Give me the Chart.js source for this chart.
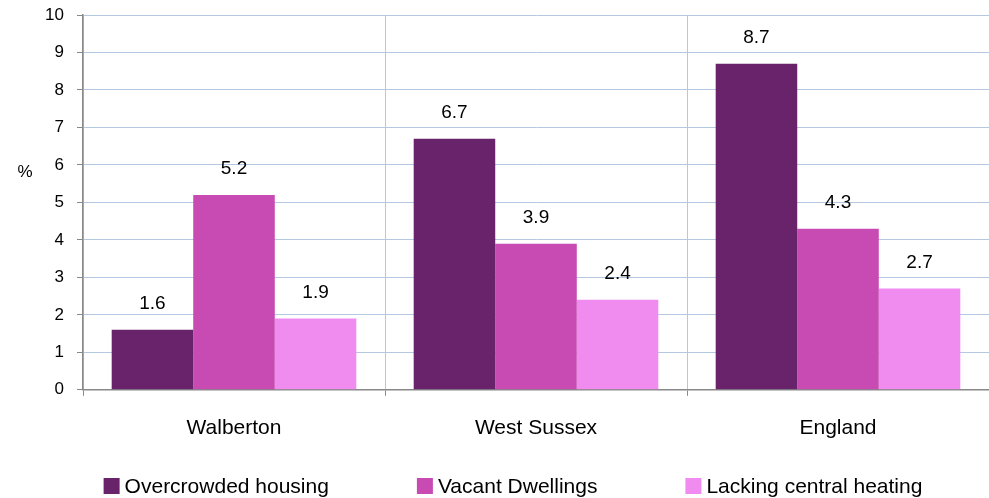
<!DOCTYPE html>
<html>
<head>
<meta charset="utf-8">
<script src="https://cdn.jsdelivr.net/npm/chart.js@4/dist/chart.umd.min.js"></script>
<style>
  html, body { margin: 0; padding: 0; background: #fff; }
  #wrap { width: 989px; height: 498px; }
</style>
</head>
<body>
<div id="wrap"><canvas id="myChart"></canvas></div>
<script>
var categories = ['Walberton', 'West Sussex', 'England'];
var overcrowded = [1.6, 6.7, 8.7];
var vacant = [5.2, 3.9, 4.3];
var lackingHeating = [1.9, 2.4, 2.7];
var seriesNames = ['Overcrowded housing', 'Vacant Dwellings', 'Lacking central heating'];
var yTicks = [0, 1, 2, 3, 4, 5, 6, 7, 8, 9, 10];

var font = 'Liberation Sans, Arial, sans-serif';

// value labels above bars, the "%" axis label and the legend row at the bottom
var labelPlugin = {
    id: 'valueLabels',
    afterDatasetsDraw: function (chart) {
        var c = chart.ctx;
        c.save();
        c.fillStyle = '#000';
        c.textAlign = 'center';
        c.textBaseline = 'middle';
        c.font = '19px ' + font;
        chart.data.datasets.forEach(function (ds, i) {
            chart.getDatasetMeta(i).data.forEach(function (bar, j) {
                c.fillText(ds.data[j].toFixed(1), bar.x, bar.y - 26);
            });
        });
        c.font = '17px ' + font;
        c.fillText('%', chart.chartArea.left - 58, chart.scales.y.getPixelForValue(5.8));

        // legend
        c.font = '21px ' + font;
        c.textAlign = 'left';
        var box = 16, gap = 5, spacing = 88;
        var widths = chart.data.datasets.map(function (ds) {
            return box + gap + c.measureText(ds.label).width;
        });
        var total = widths.reduce(function (a, b) { return a + b; }, 0) + spacing * (widths.length - 1);
        var x = 513 - total / 2;
        var y = 486;
        chart.data.datasets.forEach(function (ds, i) {
            c.fillStyle = ds.backgroundColor;
            c.fillRect(x, y - box / 2, box, box);
            c.fillStyle = '#000';
            c.fillText(ds.label, x + box + gap, y + 1);
            x += widths[i] + spacing;
        });
        c.restore();
    }
};

var ctx = document.getElementById('myChart').getContext('2d');
var chart = new Chart(ctx, {
    type: 'bar',
    data: {
        labels: categories,
        datasets: [{
            label: seriesNames[0],
            backgroundColor: '#68236b',
            data: overcrowded
        }, {
            label: seriesNames[1],
            backgroundColor: '#c84ab3',
            data: vacant
        }, {
            label: seriesNames[2],
            backgroundColor: '#f08cef',
            data: lackingHeating
        }]
    },
    options: {
        responsive: true,
        maintainAspectRatio: false,
        animation: false,
        layout: { padding: { top: 15, right: 0, bottom: 37, left: 0 } },
        datasets: {
            bar: { categoryPercentage: 0.81, barPercentage: 1.0 }
        },
        scales: {
            x: {
                offset: true,
                grid: {
                    offset: true,
                    color: '#b4c8e2',
                    tickColor: '#888',
                    tickLength: 6,
                    lineWidth: 1
                },
                border: { color: '#888', width: 1.5 },
                ticks: { color: '#000', font: { family: font, size: 21 }, padding: 20 }
            },
            y: {
                min: 0,
                max: 10,
                afterBuildTicks: function (scale) {
                    scale.ticks = yTicks.map(function (v) { return { value: v }; });
                },
                afterFit: function (scale) {
                    scale.width = 83;
                    scale.paddingTop = 0;
                },
                grid: {
                    color: '#b4c8e2',
                    tickColor: '#888',
                    tickLength: 6,
                    lineWidth: 1
                },
                border: { color: '#888', width: 1.5 },
                ticks: { color: '#000', font: { family: font, size: 17 }, padding: 13 }
            }
        },
        plugins: {
            legend: { display: false },
            tooltip: { enabled: false }
        }
    },
    plugins: [labelPlugin]
});
</script>
</body>
</html>
